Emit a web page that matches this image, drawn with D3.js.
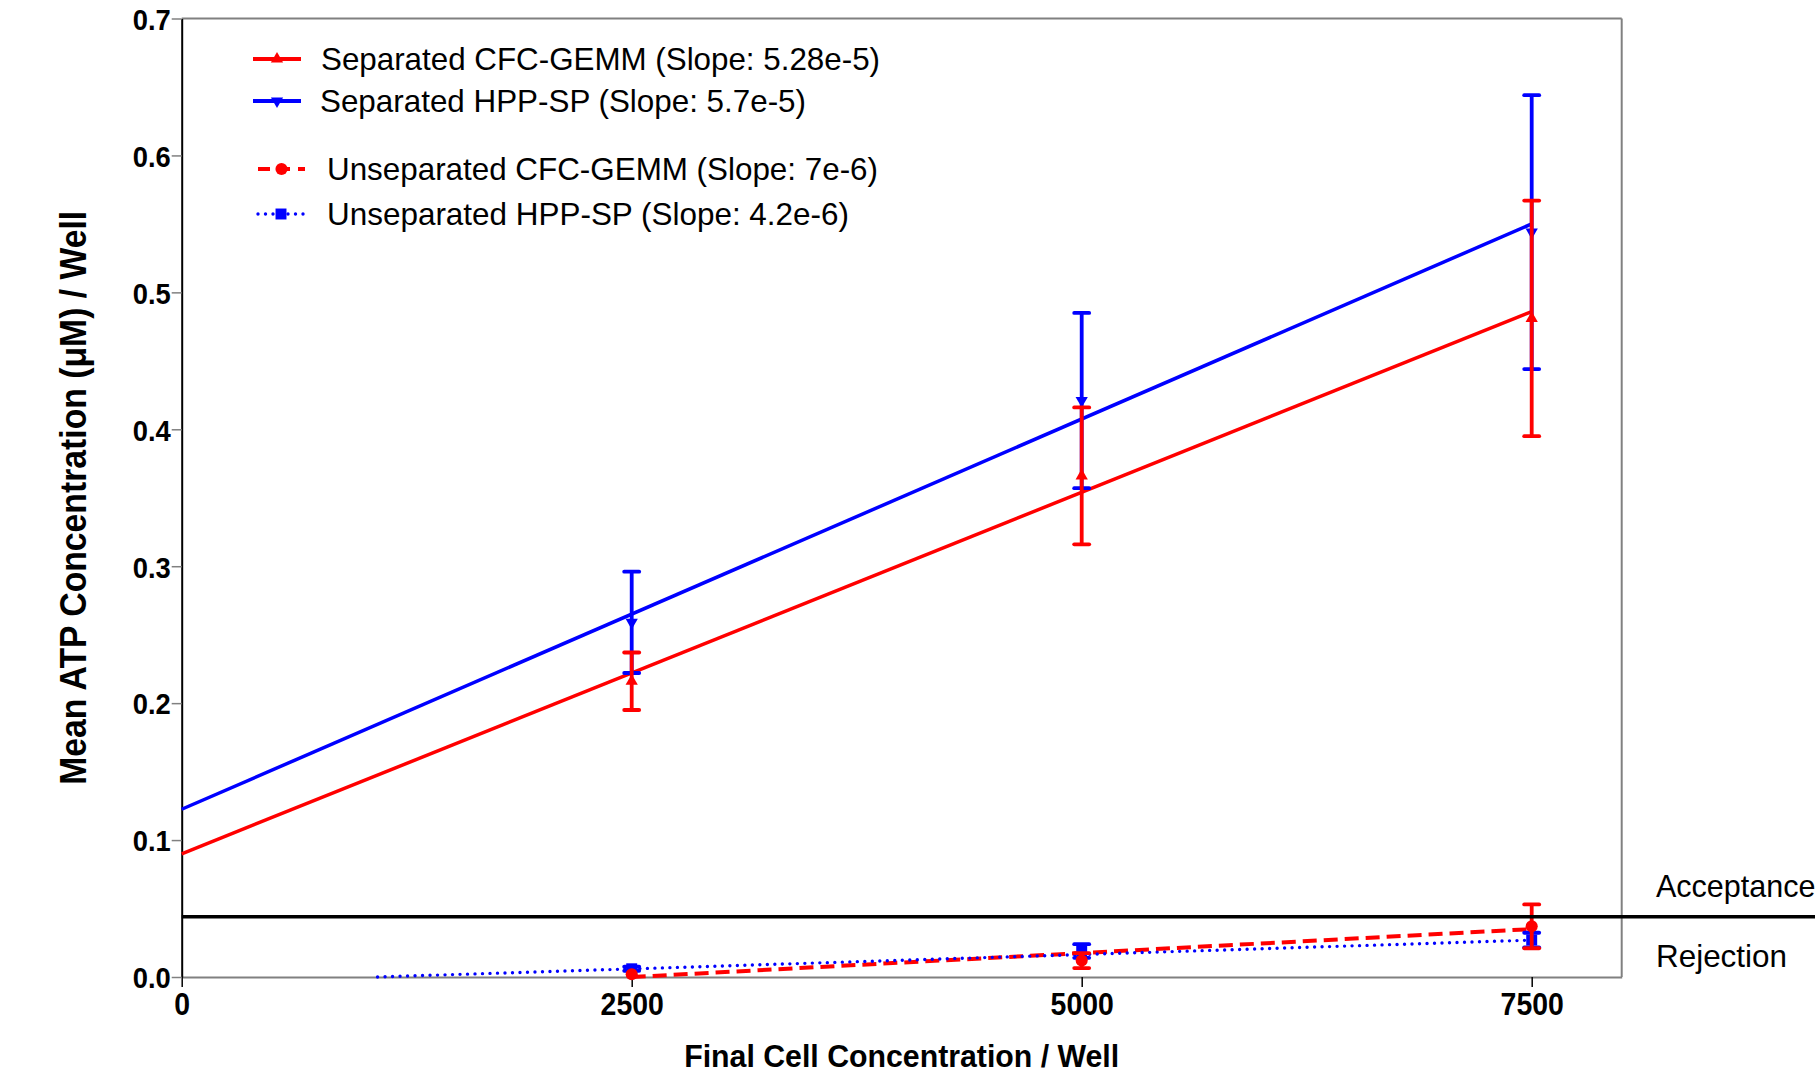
<!DOCTYPE html>
<html>
<head>
<meta charset="utf-8">
<script src="https://cdn.jsdelivr.net/npm/d3@7"></script>
<style>
  html, body { margin: 0; padding: 0; background: #fff; }
  svg { display: block; }
  text { font-family: "Liberation Sans", Arial, sans-serif; }
</style>
</head>
<body>
<svg id="chart" width="1815" height="1074"></svg>
<script>
// ---------------- data ----------------
const xTicks = [0, 2500, 5000, 7500];
const yTicks = [0.0, 0.1, 0.2, 0.3, 0.4, 0.5, 0.6, 0.7];
const yTickLabels = ["0.0", "0.1", "0.2", "0.3", "0.4", "0.5", "0.6", "0.7"];
const doses = [2500, 5000, 7500];

const seriesNames = [
  "Separated CFC-GEMM (Slope: 5.28e-5)",
  "Separated HPP-SP (Slope: 5.7e-5)",
  "Unseparated CFC-GEMM (Slope: 7e-6)",
  "Unseparated HPP-SP (Slope: 4.2e-6)"
];
const sepCfcMean = [0.216, 0.366, 0.481];
const sepCfcErr  = [0.021, 0.050, 0.086];
const sepHppMean = [0.259, 0.421, 0.544];
const sepHppErr  = [0.037, 0.064, 0.100];
const unsCfcMean = [0.002, 0.012, 0.037];
const unsCfcErr  = [0.000, 0.0055, 0.016];
const unsHppMean = [0.006, 0.019, 0.027];
const unsHppErr  = [0.0015, 0.005, 0.0053];
const fitIntercepts = [0.090, 0.1225, -0.0175, -0.00457];
const fitSlopes = [5.28e-5, 5.7e-5, 7e-6, 4.2e-6];
const threshold = 0.044;
const thresholdLabels = ["Acceptance", "Rejection"];
const xTitle = "Final Cell Concentration / Well";
const yTitle = "Mean ATP Concentration (\u03BCM) / Well";

// ---------------- layout ----------------
const svg = d3.select("#chart");
const L = 181.7, R = 1621.7, T = 18.5, B = 977;
const x = d3.scaleLinear().domain([0, 8000]).range([L, R]);
const y = d3.scaleLinear().domain([0, 0.7]).range([B, T]);

const RED = "#ff0000", BLUE = "#0000ff";
const styles = [
  { color: RED,  dash: null,    width: 3.5, symbol: d3.symbolTriangle, rot: 0,   size: 65 },
  { color: BLUE, dash: null,    width: 3.5, symbol: d3.symbolTriangle, rot: 180, size: 65 },
  { color: RED,  dash: "14 7",  width: 4,   symbol: d3.symbolCircle,   rot: 0,   size: 115 },
  { color: BLUE, dash: "0 7.5", width: 3.4, symbol: d3.symbolSquare,   rot: 0,   size: 120, cap: "round" }
];
const means = [sepCfcMean, sepHppMean, unsCfcMean, unsHppMean];
const errs = [sepCfcErr, sepHppErr, unsCfcErr, unsHppErr];

// frame (top / right)
svg.append("line").attr("x1", L).attr("x2", R).attr("y1", T).attr("y2", T)
  .attr("stroke", "#808080").attr("stroke-width", 2);
svg.append("line").attr("x1", R).attr("x2", R).attr("y1", T).attr("y2", B)
  .attr("stroke", "#808080").attr("stroke-width", 2);

// x axis
const xAxis = svg.append("g").attr("transform", `translate(0,${B})`)
  .call(d3.axisBottom(x).tickValues(xTicks).tickSize(10).tickSizeOuter(0).tickFormat(d3.format("d")));
xAxis.select(".domain").attr("stroke", "#808080").attr("stroke-width", 2);
xAxis.selectAll(".tick line").attr("stroke", "#000").attr("stroke-width", 1.5);
xAxis.selectAll(".tick text")
  .attr("font-size", 32).attr("font-weight", "bold").attr("fill", "#000")
  .attr("dy", null).attr("y", 38)
  .each(function(d) {
    const w = String(d).length * 15.8;
    d3.select(this).attr("textLength", w).attr("lengthAdjust", "spacingAndGlyphs");
  });

// y axis
const yAxis = svg.append("g").attr("transform", `translate(${L},0)`)
  .call(d3.axisLeft(y).tickValues(yTicks).tickSize(10).tickSizeOuter(0)
    .tickFormat((d, i) => yTickLabels[i]));
yAxis.select(".domain").attr("stroke", "#000").attr("stroke-width", 2);
yAxis.selectAll(".tick line").attr("stroke", "#808080").attr("stroke-width", 1.5);
yAxis.selectAll(".tick text")
  .attr("font-size", 30).attr("font-weight", "bold").attr("fill", "#000")
  .attr("x", -11).attr("dy", "0.36em")
  .attr("textLength", 38).attr("lengthAdjust", "spacingAndGlyphs");

// axis titles
svg.append("text").attr("x", (L + R) / 2).attr("y", 1067)
  .attr("text-anchor", "middle").attr("font-size", 32).attr("font-weight", "bold")
  .attr("textLength", 435).attr("lengthAdjust", "spacingAndGlyphs")
  .text(xTitle);
svg.append("text")
  .attr("transform", `translate(86,${(T + B) / 2}) rotate(-90)`)
  .attr("text-anchor", "middle").attr("font-size", 36).attr("font-weight", "bold")
  .attr("textLength", 574).attr("lengthAdjust", "spacingAndGlyphs")
  .text(yTitle);

// fit lines
const plot = svg.append("g");
fitSlopes.forEach((m, i) => {
  const b = fitIntercepts[i];
  const x0 = Math.max(0, -b / m);
  const st = styles[i];
  plot.append("line")
    .attr("x1", x(x0)).attr("y1", y(b + m * x0))
    .attr("x2", x(7500)).attr("y2", y(b + m * 7500))
    .attr("stroke", st.color).attr("stroke-width", st.width)
    .attr("stroke-dasharray", st.dash)
    .attr("stroke-linecap", st.cap || "butt");
});

// error bars and markers
const order = [1, 0, 3, 2];
order.forEach(i => {
  const st = styles[i];
  const g = plot.append("g");
  doses.forEach((d, k) => {
    const mu = means[i][k], e = errs[i][k];
    if (e > 0) {
      g.append("line").attr("x1", x(d)).attr("x2", x(d))
        .attr("y1", y(mu - e)).attr("y2", y(mu + e))
        .attr("stroke", st.color).attr("stroke-width", 3.8);
      [mu - e, mu + e].forEach(v => {
        g.append("line").attr("x1", x(d) - 7.5).attr("x2", x(d) + 7.5)
          .attr("y1", y(v)).attr("y2", y(v))
          .attr("stroke", st.color).attr("stroke-width", 3.8).attr("stroke-linecap", "round");
      });
    }
    g.append("path")
      .attr("d", d3.symbol().type(st.symbol).size(st.size)())
      .attr("transform", `translate(${x(d)},${y(mu)}) rotate(${st.rot})`)
      .attr("fill", st.color);
  });
});

// threshold line
svg.append("line").attr("x1", L).attr("x2", 1815)
  .attr("y1", y(threshold)).attr("y2", y(threshold))
  .attr("stroke", "#000").attr("stroke-width", 3.5);
svg.append("text").attr("x", 1656).attr("y", 897).attr("font-size", 30.5)
  .text(thresholdLabels[0]);
svg.append("text").attr("x", 1656).attr("y", 967).attr("font-size", 30.5)
  .attr("textLength", 131).attr("lengthAdjust", "spacingAndGlyphs")
  .text(thresholdLabels[1]);

// legend
const legendRows = [
  { y: 59,  x1: 253, x2: 301, tx: 321, w: 559 },
  { y: 101, x1: 253, x2: 301, tx: 320, w: 486 },
  { y: 169, x1: 258, x2: 305, tx: 327, w: 551 },
  { y: 214, x1: 258, x2: 304, tx: 327, w: 522 }
];
const legend = svg.append("g");
legendRows.forEach((r, i) => {
  const st = styles[i];
  legend.append("line").attr("x1", r.x1).attr("x2", r.x2).attr("y1", r.y).attr("y2", r.y)
    .attr("stroke", st.color).attr("stroke-width", i < 2 ? 4 : st.width)
    .attr("stroke-dasharray", i === 2 ? "12 8" : st.dash)
    .attr("stroke-linecap", st.cap || "butt");
  legend.append("path")
    .attr("d", d3.symbol().type(st.symbol).size(st.size)())
    .attr("transform", `translate(${(r.x1 + r.x2) / 2},${r.y}) rotate(${st.rot})`)
    .attr("fill", st.color);
  legend.append("text").attr("x", r.tx).attr("y", r.y + 11)
    .attr("font-size", 31.5).attr("fill", "#000")
    .attr("textLength", r.w).attr("lengthAdjust", "spacingAndGlyphs")
    .text(seriesNames[i]);
});
</script>
</body>
</html>
